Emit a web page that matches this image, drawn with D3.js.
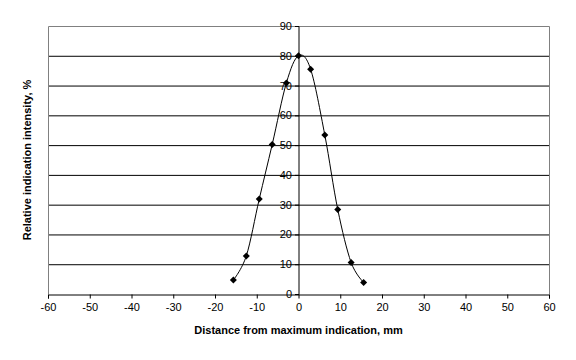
<!DOCTYPE html>
<html>
<head>
<meta charset="utf-8">
<script src="https://cdn.jsdelivr.net/npm/d3@7"></script>
<style>
  body { margin: 0; background: #fff; }
  svg { display: block; }
  text { font-family: Arial, "Liberation Sans", sans-serif; }
</style>
</head>
<body>
<svg id="chart" width="576" height="360"></svg>
<script>
const xValues = [-15.6, -12.5, -9.4, -6.3, -2.9, 0, 2.9, 6.3, 9.4, 12.6, 15.6];
const yValues = [4.7, 12.8, 31.9, 50.2, 70.9, 80, 75.5, 53.4, 28.4, 10.6, 3.9];
const xTicks = [-60, -50, -40, -30, -20, -10, 0, 10, 20, 30, 40, 50, 60];
const yTicks = [0, 10, 20, 30, 40, 50, 60, 70, 80, 90];
const xTitle = "Distance from maximum indication, mm";
const yTitle = "Relative indication intensity, %";

(function () {
const svg = d3.select("#chart");
const pL = 48, pR = 549, pT = 26, pB = 294;
const x = d3.scaleLinear().domain([-60, 60]).range([pL, pR]);
const y = d3.scaleLinear().domain([0, 90]).range([pB, pT]);
const fmt = d => String(d);

// gridlines
svg.append("g").selectAll("line").data(yTicks.filter(d => d > 0 && d < 90)).join("line")
  .attr("x1", pL).attr("x2", pR)
  .attr("y1", d => y(d) + 0.5).attr("y2", d => y(d) + 0.5)
  .attr("stroke", "#000").attr("stroke-width", 1);

// plot border (gray)
svg.append("path")
  .attr("d", `M${pL + 0.5},${pB}V${pT + 0.5}H${pR + 0.5}V${pB}`)
  .attr("fill", "none").attr("stroke", "#808080").attr("stroke-width", 1);

// x axis
const xAxis = svg.append("g").attr("transform", `translate(0,${pB + 0.5})`)
  .call(d3.axisBottom(x).tickValues(xTicks).tickSize(4).tickPadding(5).tickFormat(fmt));
xAxis.select(".domain").attr("stroke", "#000");
xAxis.selectAll("line").attr("stroke", "#000");
xAxis.selectAll("text").attr("font-size", 11).attr("fill", "#000")
  .attr("font-family", "Arial, 'Liberation Sans', sans-serif");

// y axis at x=0
const yAxis = svg.append("g").attr("transform", `translate(${x(0) + 0.5},0)`)
  .call(d3.axisLeft(y).tickValues(yTicks).tickSize(4).tickPadding(3).tickFormat(fmt));
yAxis.select(".domain").attr("stroke", "#000").attr("d", `M-4,${y(90) + 0.5}H0V${y(0) + 0.5}`);
yAxis.selectAll("line").attr("stroke", "#000");
yAxis.selectAll("text").attr("font-size", 11).attr("fill", "#000")
  .attr("font-family", "Arial, 'Liberation Sans', sans-serif");

// curve
const pts = xValues.map((d, i) => [d, yValues[i]]);
const line = d3.line().x(d => x(d[0])).y(d => y(d[1])).curve(d3.curveCardinal.tension(0));
svg.append("path").datum(pts).attr("d", line)
  .attr("fill", "none").attr("stroke", "#000").attr("stroke-width", 1);

// markers
svg.append("g").selectAll("path").data(pts).join("path")
  .attr("transform", d => `translate(${x(d[0])},${y(d[1])})`)
  .attr("d", "M0,-3.5L3.5,0L0,3.5L-3.5,0Z")
  .attr("fill", "#000");

// titles
svg.append("text").attr("x", (pL + pR) / 2).attr("y", 334)
  .attr("text-anchor", "middle").attr("font-size", 11).attr("font-weight", "bold")
  .text(xTitle);
svg.append("text").attr("transform", `translate(31,${(pT + pB) / 2}) rotate(-90)`)
  .attr("text-anchor", "middle").attr("font-size", 11).attr("font-weight", "bold")
  .text(yTitle);
})();
</script>
</body>
</html>
